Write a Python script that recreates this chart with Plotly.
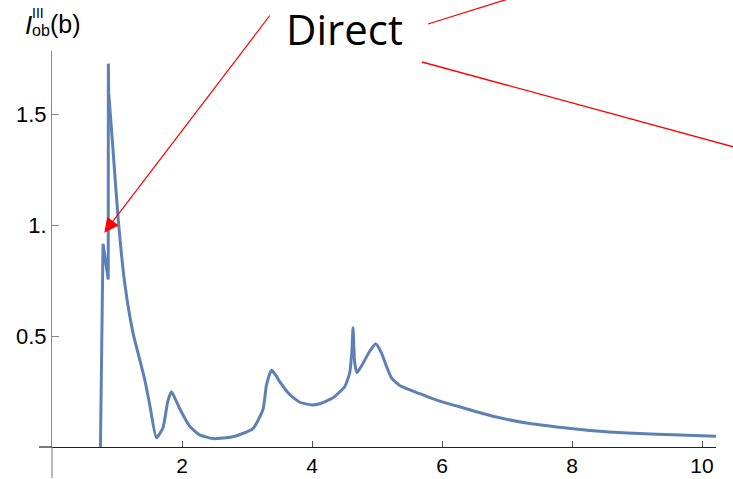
import plotly.graph_objects as go

# ---- data ----
x_vals = [0.745, 0.785, 0.865, 0.867, 0.872, 0.888, 0.938, 1.015, 1.118, 1.246, 1.349, 1.426,
          1.503, 1.606, 1.708, 1.78, 1.837, 1.90, 1.972, 2.118, 2.263, 2.477, 2.785, 3.092,
          3.246, 3.30, 3.375, 3.44, 3.503, 3.657, 3.811, 4.0, 4.118, 4.323, 4.503, 4.580,
          4.615, 4.631, 4.657, 4.692, 4.760, 4.888, 4.980, 5.068, 5.145, 5.222, 5.350, 5.554,
          5.760, 5.965, 6.323, 6.837, 7.349, 7.81, 8.015, 8.53, 9.04, 9.55, 10.22]
y_vals = [0.0, 0.917, 0.756, 1.73, 1.598, 1.538, 1.343, 1.041, 0.741, 0.515, 0.395, 0.305,
          0.192, 0.0415, 0.087, 0.205, 0.249, 0.215, 0.169, 0.094, 0.056, 0.038, 0.046, 0.083,
          0.169, 0.28, 0.347, 0.325, 0.295, 0.237, 0.202, 0.19, 0.195, 0.222, 0.272, 0.335,
          0.44, 0.538, 0.38, 0.335, 0.365, 0.432, 0.466, 0.425, 0.365, 0.312, 0.278, 0.252,
          0.229, 0.207, 0.177, 0.135, 0.106, 0.089, 0.082, 0.0686, 0.061, 0.055, 0.049]
SPIKE_END = 6  # the sharp threshold spikes (first points) are drawn unsmoothed
x_ticks = [2, 4, 6, 8, 10]
x_ticktext = ["2", "4", "6", "8", "10"]
y_ticks = [0.5, 1.0, 1.5]
y_ticktext = ["0.5", "1.", "1.5"]
annotation_label = "Direct"

# ---- layout geometry (pixels) ----
WIDTH, HEIGHT = 733, 479
L, R, T, B = 52, 716, 51, 447
PW, PH = R - L, B - T


def px(x):
    return (x - L) / PW


def py(y):
    return (B - y) / PH


line_color = "#5E81B5"
fig = go.Figure()
fig.add_trace(go.Scatter(x=x_vals[:SPIKE_END], y=y_vals[:SPIKE_END], mode="lines",
                         line=dict(color=line_color, width=3), hoverinfo="skip"))
fig.add_trace(go.Scatter(x=x_vals[SPIKE_END - 1:], y=y_vals[SPIKE_END - 1:], mode="lines",
                         line=dict(color=line_color, width=3, shape="spline", smoothing=0.5),
                         hoverinfo="skip"))

red = "#FF0000"
shapes = [
    # axis extensions
    dict(type="line", xref="paper", yref="paper", x0=px(39), y0=0, x1=0, y1=0,
         line=dict(color="#222222", width=1.2)),
    dict(type="line", xref="paper", yref="paper", x0=0, y0=0, x1=0, y1=py(478),
         line=dict(color="#888888", width=1.2)),
    # callout lines
    dict(type="line", xref="paper", yref="paper", x0=px(428), y0=py(24), x1=px(508), y1=py(-1),
         line=dict(color=red, width=1.3)),
    dict(type="line", xref="paper", yref="paper", x0=px(422), y0=py(62), x1=px(734), y1=py(147),
         line=dict(color=red, width=1.3)),
]

annotations = [
    dict(xref="paper", yref="paper", x=px(104.3), y=py(232.7), text="", showarrow=True,
         ax=271 - 104.3, ay=14 - 232.7, arrowhead=2, arrowsize=2.4, arrowwidth=1.2,
         arrowcolor=red, standoff=0),
    dict(xref="paper", yref="paper", x=px(344), y=py(29), text=annotation_label,
         showarrow=False, xanchor="center", yanchor="middle",
         font=dict(family="Open Sans", size=42, color="#000000")),
    # y-axis label I_ob^III(b)
    dict(xref="paper", yref="paper", x=px(28.5), y=py(25.5), text="<i>I</i>", showarrow=False,
         xanchor="center", yanchor="middle",
         font=dict(family="Liberation Sans", size=26, color="#000000")),
    dict(xref="paper", yref="paper", x=px(37.5), y=py(13.5), text="III", showarrow=False,
         xanchor="center", yanchor="middle",
         font=dict(family="Liberation Sans", size=14, color="#000000")),
    dict(xref="paper", yref="paper", x=px(40.5), y=py(31), text="ob", showarrow=False,
         xanchor="center", yanchor="middle",
         font=dict(family="Liberation Sans", size=16, color="#000000")),
    dict(xref="paper", yref="paper", x=px(65), y=py(24), text="(b)", showarrow=False,
         xanchor="center", yanchor="middle",
         font=dict(family="Liberation Sans", size=25, color="#000000")),
]

fig.update_layout(
    width=WIDTH, height=HEIGHT,
    margin=dict(l=L, r=WIDTH - R, t=T, b=HEIGHT - B, pad=0, autoexpand=False),
    paper_bgcolor="white", plot_bgcolor="white",
    showlegend=False,
    shapes=shapes, annotations=annotations,
    font=dict(family="Liberation Sans", size=22, color="#000000"),
    xaxis=dict(range=[0, PW / 65.0], showgrid=False, zeroline=False, automargin=False,
               showline=True, linecolor="#222222", linewidth=1.2,
               ticks="inside", ticklen=6, tickcolor="#555555", tickwidth=1,
               tickvals=x_ticks, ticktext=x_ticktext, ticklabelstandoff=0,
               tickfont=dict(family="Liberation Sans", size=21, color="#000000")),
    yaxis=dict(range=[0, PH / 221.6], showgrid=False, zeroline=False, automargin=False,
               showline=True, linecolor="#888888", linewidth=1.2,
               ticks="inside", ticklen=7, tickcolor="#888888", tickwidth=1,
               tickvals=y_ticks, ticktext=y_ticktext, ticklabelstandoff=0,
               tickfont=dict(family="Liberation Sans", size=22, color="#000000")),
)

fig.write_html("out.html")
